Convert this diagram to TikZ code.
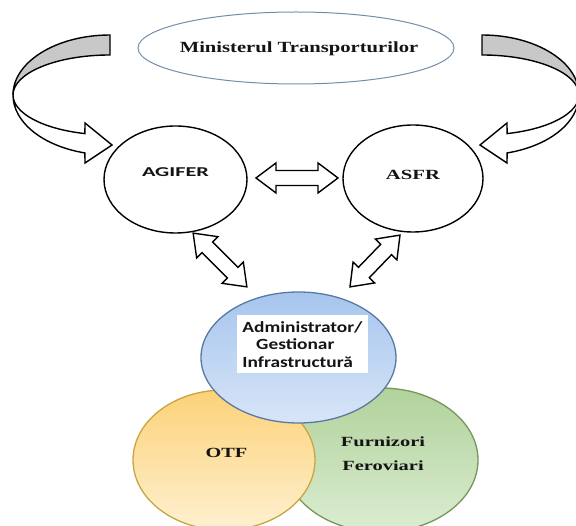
\documentclass[tikz,border=0pt]{standalone}
\usepackage{fontspec}
\setmainfont{Liberation Serif}
\newfontfamily\calib{Carlito}
\usepackage{graphicx}
\usetikzlibrary{shapes.geometric,calc}
\definecolor{arrgray}{RGB}{200,200,200}
\definecolor{minblue}{RGB}{115,142,172}
\definecolor{txt}{RGB}{20,20,20}
\definecolor{bluetop}{RGB}{166,197,238}
\definecolor{bluebot}{RGB}{216,229,247}
\definecolor{blueedge}{RGB}{88,122,162}
\definecolor{yeltop}{RGB}{252,210,120}
\definecolor{yelbot}{RGB}{254,240,208}
\definecolor{yeledge}{RGB}{200,165,64}
\definecolor{grntop}{RGB}{176,210,155}
\definecolor{grnbot}{RGB}{220,237,210}
\definecolor{grnedge}{RGB}{118,150,90}
\tikzset{
  blk/.style={draw=black, line width=1.4pt, line join=miter},
  pics/dblarr/.style={code={
    \draw[blk, fill=white] ({-#1/2},0) -- ({-#1/2+20},15) -- ({-#1/2+20},7.5)
      -- ({#1/2-20},7.5) -- ({#1/2-20},15) -- ({#1/2},0) -- ({#1/2-20},-15)
      -- ({#1/2-20},-7.5) -- ({-#1/2+20},-7.5) -- ({-#1/2+20},-15) -- cycle;
  }},
  pics/curvarr/.style={code={
    \filldraw[blk, fill=arrgray] (110,-35)
      arc[start angle=90, end angle=180, x radius=97, y radius=60]
      arc[start angle=180, end angle=90, x radius=97, y radius=40] -- cycle;
    \filldraw[blk, fill=white] (13,-95)
      arc[start angle=180, end angle=255, x radius=97, y radius=60]
      -- (85,-163) -- (112,-145) -- (85,-123) -- (84.9,-133.6)
      arc[start angle=255, end angle=180, x radius=97, y radius=40] -- cycle;
  }},
  ring/.style={ellipse, draw=black, line width=1.4pt, fill=white, inner sep=0pt},
  venn/.style={ellipse, line width=1.3pt, inner sep=0pt, shading angle=20},
  lbl/.style={inner sep=0pt, text=txt, anchor=base}
}
\begin{document}
\begin{tikzpicture}[x=1pt, y=1pt]
\clip (0,0) rectangle (576,-526);
\fill[white] (0,0) rectangle (576,-526);

% curved arrows
\pic at (0,0) {curvarr};
\pic[xscale=-1] at (592,0) {curvarr};

% ministry
\node[ellipse, draw=minblue, line width=1pt, fill=white, minimum width=316, minimum height=72, inner sep=0pt] (min) at (296,-48) {};
\node[lbl] (mint) at (299,-53) {\fontsize{15.5}{18}\selectfont\bfseries\scalebox{1.33}[1]{Ministerul Transporturilor}};

% AGIFER and ASFR
\node[ring, minimum width=143, minimum height=107] (agifer) at (175.5,-179.5) {};
\node[lbl] (agifert) at (175.5,-177) {\calib\bfseries\fontsize{13.5}{16}\selectfont\scalebox{1.65}[1]{AGIFER}};
\node[ring, minimum width=140, minimum height=107] (asfr) at (413,-178.5) {};
\node[lbl] (asfrt) at (413,-180) {\fontsize{14}{16}\selectfont\bfseries\scalebox{1.48}[1]{ASFR}};

% block double arrows
\pic at (297,-178) {dblarr=82};
\pic[rotate=-45] at (220,-260) {dblarr=76};
\pic[rotate=46] at (375,-261) {dblarr=72};

% Venn circles
\node[venn, draw=grnedge, top color=grntop, bottom color=grnbot, minimum width=194, minimum height=144] (furn) at (381,-460) {};
\node[venn, draw=yeledge, top color=yeltop, bottom color=yelbot, minimum width=182, minimum height=140] (otf) at (224,-460) {};
\node[venn, draw=blueedge, top color=bluetop, bottom color=bluebot, minimum width=195, minimum height=131] (adm) at (298.5,-357.5) {};

\node[fill=white, anchor=north, inner xsep=4pt, inner ysep=6pt, align=left, text=txt,
      xscale=1.25, transform shape,
      font=\calib\bfseries\fontsize{15.5}{17.5}\selectfont] (admt) at (302.5,-315)
  {Administrator/\\\hspace*{11pt}Gestionar\\Infrastructură};

\node[lbl] (otft) at (226.5,-458) {\fontsize{14}{16}\selectfont\bfseries\scalebox{1.45}[1]{OTF}};
\node[inner sep=0pt, anchor=north, align=center, text=txt, xscale=1.46, transform shape,
      font=\fontsize{14}{24}\selectfont\bfseries] (furnt) at (383,-436.5) {Furnizori\\Feroviari};
\end{tikzpicture}
\end{document}
